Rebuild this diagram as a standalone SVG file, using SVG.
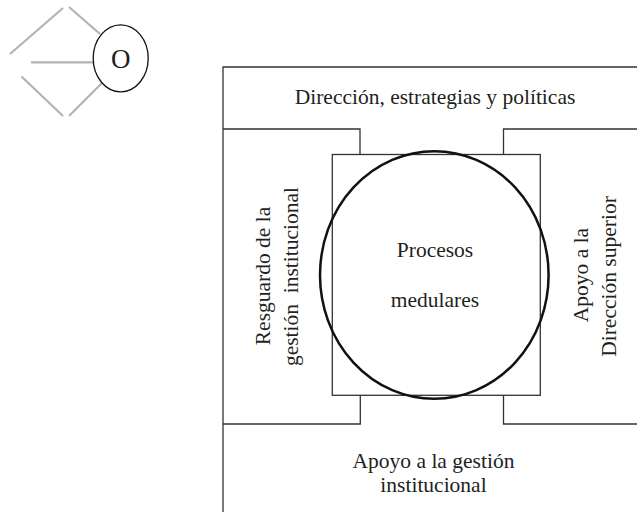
<svg xmlns="http://www.w3.org/2000/svg" width="637" height="512" viewBox="0 0 637 512">
<style>
.t{font-family:"Liberation Serif","Times New Roman",serif;font-size:21.5px;fill:#231f20;text-anchor:middle}
.f{fill:none;stroke:#333;stroke-width:1.3}
.g{stroke:#b3b3b3;stroke-width:2.2;fill:none}
</style>
<rect width="637" height="512" fill="#fff"/>
<g id="icon">
<line class="g" x1="10" y1="54" x2="63" y2="8"/>
<line class="g" x1="69" y1="7" x2="100" y2="34"/>
<line class="g" x1="31" y1="62.3" x2="93.5" y2="62.3"/>
<line class="g" x1="21.5" y1="76.5" x2="63" y2="116"/>
<line class="g" x1="69" y1="116" x2="102" y2="83"/>
<ellipse cx="120.7" cy="58.3" rx="27.5" ry="33.5" fill="#fff" stroke="#111" stroke-width="1.3"/>
<text class="t" x="120.7" y="68.3" style="font-size:27px">O</text>
</g>
<g id="frame">
<path class="f" d="M223,512 V67 H637"/>
</g>
<g id="top">
<path class="f" d="M223,129 H360 V154.5 M637,129 H503.5 V154.5"/>
<text class="t" x="435" y="104.3">Dirección, estrategias y políticas</text>
</g>
<g id="bottom">
<path class="f" d="M223,424 H360.3 V395 M637,424 H503.5 V395"/>
<text class="t" x="433.5" y="467.5">Apoyo a la gestión</text>
<text class="t" x="433.5" y="491.5">institucional</text>
</g>
<g id="left">
<text class="t" transform="translate(270,276) rotate(-90)">Resguardo de la</text>
<text class="t" transform="translate(298,276.5) rotate(-90)" xml:space="preserve">gestión  institucional</text>
</g>
<g id="right">
<text class="t" transform="translate(587.5,275) rotate(-90)">Apoyo a la</text>
<text class="t" transform="translate(615.5,276.5) rotate(-90)">Dirección superior</text>
</g>
<g id="core">
<rect class="f" x="332.3" y="154.5" width="208" height="240.8"/>
<ellipse cx="434.3" cy="275" rx="114.3" ry="123.8" fill="none" stroke="#111" stroke-width="2.5"/>
<text class="t" x="435" y="256.7">Procesos</text>
<text class="t" x="435" y="307.3">medulares</text>
</g>
</svg>
